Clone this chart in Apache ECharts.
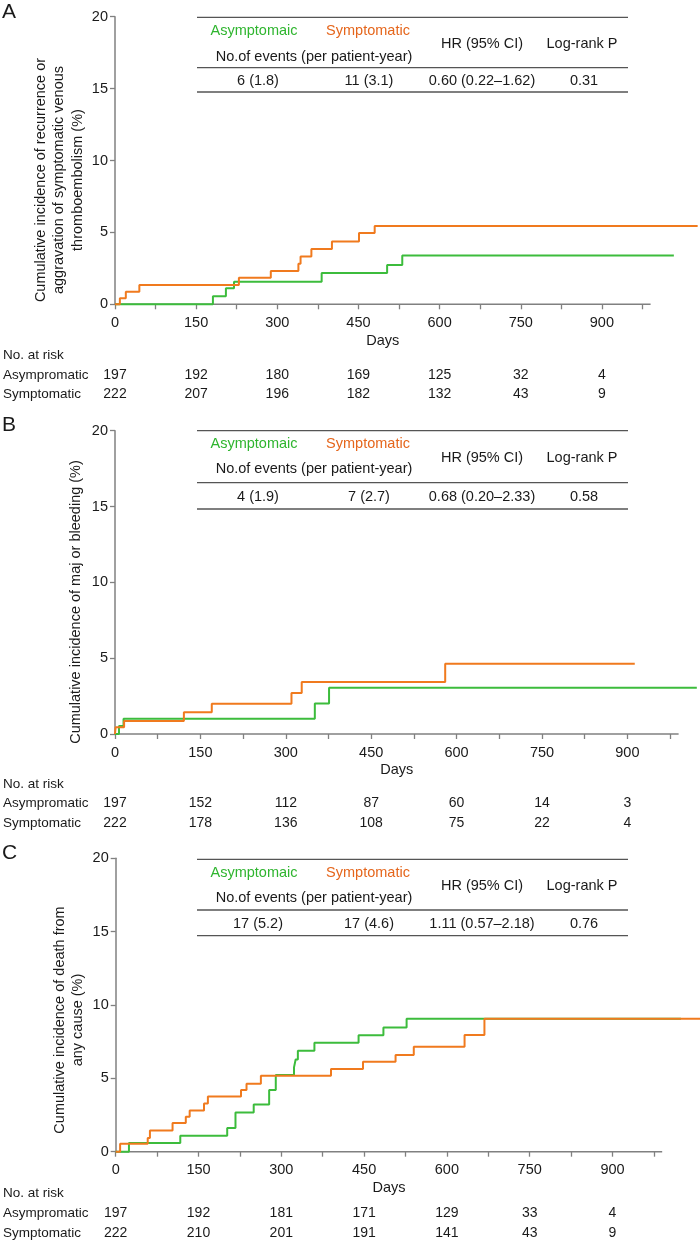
<!DOCTYPE html>
<html>
<head>
<meta charset="utf-8">
<script src="https://cdn.jsdelivr.net/npm/echarts@6/dist/echarts.min.js"></script>
<style>
html,body{margin:0;padding:0;background:#fff;}
#chart{width:700px;height:1240px;}
</style>
</head>
<body>
<div id="chart"></div>
<script>
// ---------- DATA ----------
// Panel A: recurrence / aggravation of symptomatic VTE
const asymA_days = [0, 181, 205, 220, 382, 503, 531, 1033];
const asymA_vals = [0, 0.56, 1.11, 1.57, 2.18, 2.73, 3.39, 3.39];
const symA_days = [0, 9, 20, 45, 229, 288, 339, 343, 363, 401, 451, 480, 1077];
const symA_vals = [0, 0.42, 0.88, 1.34, 1.85, 2.31, 2.82, 3.33, 3.84, 4.37, 4.95, 5.44, 5.44];
// Panel B: major bleeding
const asymB_days = [0, 7, 15, 351, 376, 1022];
const asymB_vals = [0, 0.53, 1.0, 2.01, 3.05, 3.05];
const symB_days = [0, 1, 16, 121, 170, 310, 328, 580, 913];
const symB_vals = [0, 0.44, 0.86, 1.44, 1.99, 2.70, 3.43, 4.64, 4.64];
// Panel C: death from any cause
const asymC_days = [0, 24, 117, 202, 217, 250, 278, 290, 323, 326, 330, 360, 440, 485, 527, 1024];
const asymC_vals = [0, 0.59, 1.09, 1.62, 2.67, 3.21, 4.2, 5.23, 5.75, 6.29, 6.88, 7.42, 7.94, 8.46, 9.07, 9.07];
const symC_days = [0, 8, 58, 62, 103, 127, 134, 160, 167, 227, 237, 263, 390, 448, 507, 540, 632, 668, 1062];
const symC_vals = [0, 0.55, 0.93, 1.45, 1.95, 2.38, 2.8, 3.28, 3.76, 4.2, 4.64, 5.17, 5.63, 6.13, 6.6, 7.16, 7.95, 9.07, 9.07];

// Summary tables
const tableHeader = ['Asymptomaic', 'Symptomatic', 'No.of events (per patient-year)', 'HR (95% CI)', 'Log-rank P'];
const tableA = ['6 (1.8)', '11 (3.1)', '0.60 (0.22\u20131.62)', '0.31'];
const tableB = ['4 (1.9)', '7 (2.7)', '0.68 (0.20\u20132.33)', '0.58'];
const tableC = ['17 (5.2)', '17 (4.6)', '1.11 (0.57\u20132.18)', '0.76'];

// Numbers at risk
const riskDays = [0, 150, 300, 450, 600, 750, 900];
const riskA_asym = [197, 192, 180, 169, 125, 32, 4];
const riskA_sym = [222, 207, 196, 182, 132, 43, 9];
const riskB_asym = [197, 152, 112, 87, 60, 14, 3];
const riskB_sym = [222, 178, 136, 108, 75, 22, 4];
const riskC_asym = [197, 192, 181, 171, 129, 33, 4];
const riskC_sym = [222, 210, 201, 191, 141, 43, 9];
const riskLabels = ['No. at risk', 'Asympromatic', 'Symptomatic'];

// Axis ticks
const xTickValues = [0, 75, 150, 225, 300, 375, 450, 525, 600, 675, 750, 825, 900, 975];
const xLabelValues = [0, 150, 300, 450, 600, 750, 900];
const xAxisEnd = 990;   // drawn axis line end (days)
const xScaleMax = 1100; // scale extent so that curves can run past the axis line

const panelLetters = ['A', 'B', 'C'];
const yTitles = [
  'Cumulative incidence of recurrence or\naggravation of symptomatic venous\nthromboembolism (%)',
  'Cumulative incidence of maj or bleeding (%)',
  'Cumulative incidence of death from\nany cause (%)'
];
const xTitle = 'Days';

// ---------- STYLE / LAYOUT ----------
const FONT = "'Liberation Sans', Arial, Helvetica, sans-serif";
const GREEN = '#3cbc3c';
const ORANGE = '#f07a1e';
const GREEN_TXT = '#2fb52f';
const ORANGE_TXT = '#e5661c';
const AXIS = '#808080';
const TXT = '#1a1a1a';

const pxPerDay = [0.541, 0.5693, 0.552];
const grids = [
  {left: 115, top: 16.7, height: 287.6},
  {left: 115, top: 430.7, height: 303.3},
  {left: 115.7, top: 858.3, height: 293.4}
].map((g, i) => Object.assign(g, {width: xScaleMax * pxPerDay[i], containLabel: false, outerBoundsMode: 'none'}));

const tableLayout = [
  {lines: [17.3, 67.7, 92], h1: 31, h2: 56.5, hm: 44, v: 81},
  {lines: [430.7, 482.7, 509], h1: 444.3, h2: 469, hm: 457.7, v: 497},
  {lines: [859.3, 910, 935.7], h1: 872.7, h2: 898.3, hm: 886, v: 924}
];
const riskY = [[355, 375, 394], [784, 803, 823], [1193, 1213, 1233]];
const daysGap = [36.4, 36, 36];
const letterY = [12.5, 425, 853];
const yTitlePos = [[59.3, 180], [76, 602], [69, 1020]];

function pairs(d, v) { return d.map((x, i) => [x, v[i]]); }

const seriesData = [
  [pairs(asymA_days, asymA_vals), pairs(symA_days, symA_vals)],
  [pairs(asymB_days, asymB_vals), pairs(symB_days, symB_vals)],
  [pairs(asymC_days, asymC_vals), pairs(symC_days, symC_vals)]
];

const option = {
  animation: false,
  backgroundColor: '#fff',
  grid: grids,
  xAxis: grids.map((g, i) => ({
    type: 'value', gridIndex: i, min: 0, max: xScaleMax,
    axisLine: {show: false},
    axisTick: {show: true, length: 5, customValues: xTickValues, lineStyle: {color: AXIS, width: 1.3}},
    axisLabel: {customValues: xLabelValues, margin: 11, fontFamily: FONT, fontSize: 14.5, color: TXT},
    splitLine: {show: false}
  })),
  yAxis: grids.map((g, i) => ({
    type: 'value', gridIndex: i, min: 0, max: 20, interval: 5,
    axisLine: {show: true, lineStyle: {color: AXIS, width: 1.5}},
    axisTick: {show: true, length: 5, lineStyle: {color: AXIS, width: 1.3}},
    axisLabel: {margin: 7, fontFamily: FONT, fontSize: 14.5, color: TXT},
    splitLine: {show: false}
  })),
  series: []
};
seriesData.forEach((pair, i) => {
  option.series.push({
    type: 'line', xAxisIndex: i, yAxisIndex: i, data: pair[0], step: 'end',
    symbol: 'none', clip: false, lineStyle: {color: GREEN, width: 2}, z: 2
  });
  option.series.push({
    type: 'line', xAxisIndex: i, yAxisIndex: i, data: pair[1], step: 'end',
    symbol: 'none', clip: false, lineStyle: {color: ORANGE, width: 2}, z: 3
  });
});

const chart = echarts.init(document.getElementById('chart'), null, {renderer: 'canvas'});
chart.setOption(option);

// ---------- annotations ----------
function txt(x, y, s, opts) {
  opts = opts || {};
  return {
    type: 'text', x: x, y: y, rotation: opts.rotation || 0, silent: true,
    style: {
      text: s, fill: opts.fill || TXT, fontFamily: FONT,
      fontSize: opts.size || 14.5, align: opts.align || 'center',
      verticalAlign: 'middle', lineHeight: opts.lh || 18
    }
  };
}
function hline(x1, x2, y, color, w) {
  return {type: 'line', silent: true, z: 1, shape: {x1: x1, y1: y, x2: x2, y2: y},
    style: {stroke: color || '#555', lineWidth: w || 1.3}};
}

const graphics = [];
const tables = [tableA, tableB, tableC];
const risks = [[riskA_asym, riskA_sym], [riskB_asym, riskB_sym], [riskC_asym, riskC_sym]];
const tX1 = 197, tX2 = 628;
const colHead = [254, 368, 314, 482, 582];
const colVal = [258, 369, 482, 584];

for (let i = 0; i < 3; i++) {
  const x0 = chart.convertToPixel({xAxisIndex: i}, 0);
  const xEnd = chart.convertToPixel({xAxisIndex: i}, xAxisEnd);
  const xMid = chart.convertToPixel({xAxisIndex: i}, xAxisEnd / 2);
  const yZero = chart.convertToPixel({yAxisIndex: i}, 0);
  // x axis line (up to the last day shown)
  graphics.push(hline(x0, xEnd, yZero, AXIS, 1.5));
  graphics.push(txt(xMid, yZero + daysGap[i], xTitle));
  // panel letter
  graphics.push(txt(2, letterY[i], panelLetters[i], {align: 'left', size: 21}));
  // y title
  graphics.push(txt(yTitlePos[i][0], yTitlePos[i][1], yTitles[i], {rotation: Math.PI / 2, lh: 18.3}));
  // table
  const L = tableLayout[i];
  L.lines.forEach(y => graphics.push(hline(tX1, tX2, y)));
  graphics.push(txt(colHead[0], L.h1, tableHeader[0], {fill: GREEN_TXT}));
  graphics.push(txt(colHead[1], L.h1, tableHeader[1], {fill: ORANGE_TXT}));
  graphics.push(txt(colHead[2], L.h2, tableHeader[2]));
  graphics.push(txt(colHead[3], L.hm, tableHeader[3]));
  graphics.push(txt(colHead[4], L.hm, tableHeader[4]));
  tables[i].forEach((s, k) => graphics.push(txt(colVal[k], L.v, s)));
  // risk table
  const ry = riskY[i];
  graphics.push(txt(3, ry[0], riskLabels[0], {align: 'left', size: 13.5}));
  graphics.push(txt(3, ry[1], riskLabels[1], {align: 'left', size: 13.5}));
  graphics.push(txt(3, ry[2], riskLabels[2], {align: 'left', size: 13.5}));
  riskDays.forEach((d, k) => {
    const px = chart.convertToPixel({xAxisIndex: i}, d);
    graphics.push(txt(px, ry[1], String(risks[i][0][k]), {size: 14}));
    graphics.push(txt(px, ry[2], String(risks[i][1][k]), {size: 14}));
  });
}
chart.setOption({graphic: {elements: graphics}});
</script>
</body>
</html>
